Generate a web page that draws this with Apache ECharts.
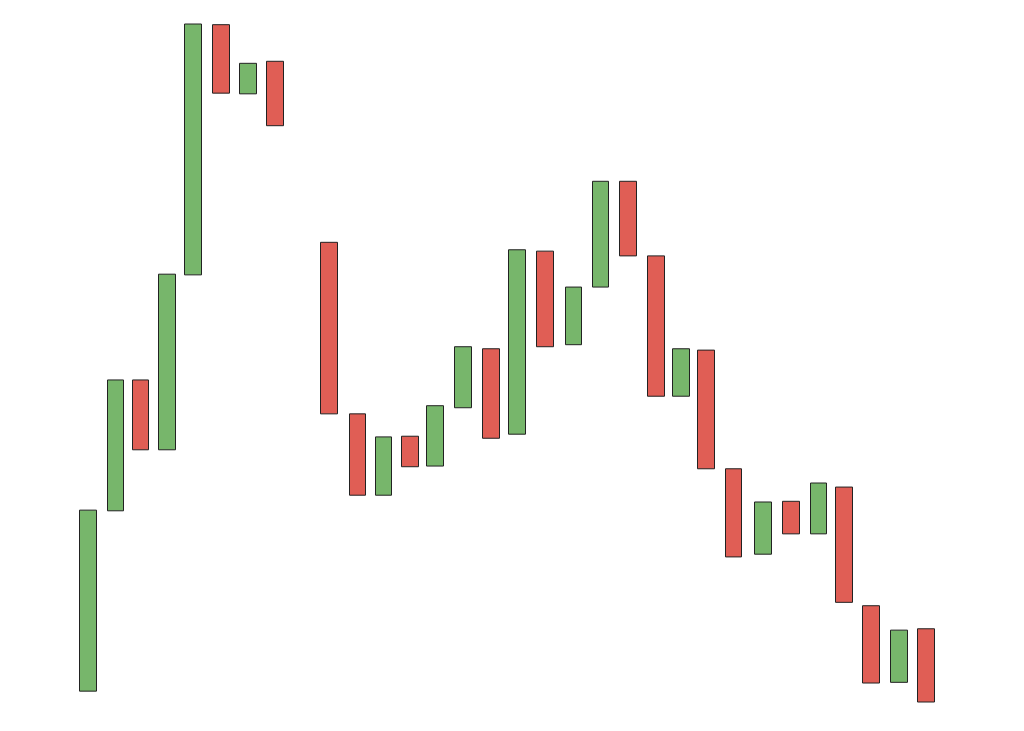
<!DOCTYPE html>
<html>
<head>
<meta charset="utf-8">
<style>
  html, body { margin: 0; padding: 0; background: #fff; }
  #chart { width: 1024px; height: 731px; }
</style>
<script src="https://cdn.jsdelivr.net/npm/echarts@6/dist/echarts.min.js"></script>
</head>
<body>
<div id="chart"></div>
<script>
// 横轴位置 (间距不完全均匀, 第 9 个位置空缺)
const positions = [0, 1.02, 1.95, 2.92, 3.88, 4.92, 5.92, 6.92, 8.92, 9.97, 10.93, 11.91, 12.84, 13.88, 14.91, 15.87,
  16.91, 17.96, 18.96, 19.97, 21.01, 21.94, 22.86, 23.88, 24.97, 26.01, 27.03, 27.96, 28.97, 30.0, 31.0]
// 开盘 / 收盘 (没有影线)
const openValues = [101.6, 128.2, 147.5, 137.2, 163.0, 199.9, 189.7, 194.5, 167.8, 142.5, 130.5, 139.2, 134.8, 143.4, 152.1,
  139.5, 166.5, 152.7, 161.2, 176.8, 165.8, 145.1, 151.9, 134.4, 121.8, 129.6, 124.8, 131.7, 114.2, 102.9, 110.8]
const closeValues = [128.3, 147.5, 137.2, 163.1, 200.0, 189.8, 194.2, 185.0, 142.5, 130.5, 139.1, 134.7, 143.7, 152.4, 138.9,
  166.7, 152.4, 161.2, 176.8, 165.8, 145.1, 152.1, 134.4, 121.4, 129.5, 124.8, 132.3, 114.7, 102.8, 110.6, 100.0]

const candles = positions.map((x, i) => {
  const o = openValues[i]
  const c = closeValues[i]
  return [x, o, c, Math.min(o, c), Math.max(o, c)]
})

const chart = echarts.init(document.getElementById('chart'))

chart.setOption({
  animation: false,
  grid: {
    left: 74.5,
    right: 84.5,
    top: 24,
    bottom: 29
  },
  xAxis: {
    type: 'value',
    min: -0.5,
    max: 31.5,
    show: false
  },
  yAxis: {
    type: 'value',
    min: 100,
    max: 200,
    show: false
  },
  series: [
    {
      type: 'candlestick',
      data: candles,
      encode: { x: 0, y: [1, 2, 3, 4] },
      barWidth: 17,
      itemStyle: {
        color: '#77b66b',
        color0: '#e05e55',
        borderColor: '#222',
        borderColor0: '#222',
        borderWidth: 1
      }
    }
  ]
})
</script>
</body>
</html>
